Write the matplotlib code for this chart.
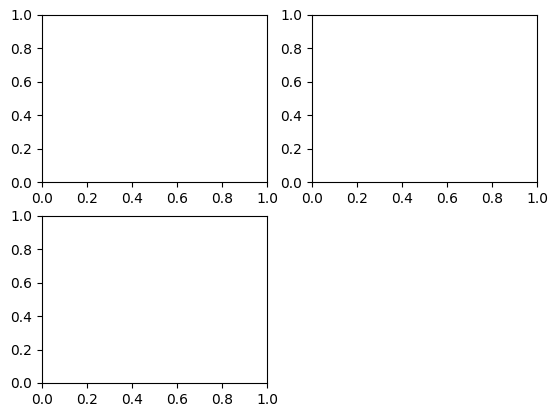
import matplotlib
matplotlib.use("Agg")
import matplotlib.pyplot as plt

fig, axes = plt.subplots(2, 2, figsize=(5.58, 4.18), dpi=100)
axes[1, 1].remove()
fig.subplots_adjust(left=42/558, right=537/558, top=1-15/418, bottom=1-383/418,
                    wspace=0.2, hspace=0.2)
fig.savefig("out.png", dpi=100)
